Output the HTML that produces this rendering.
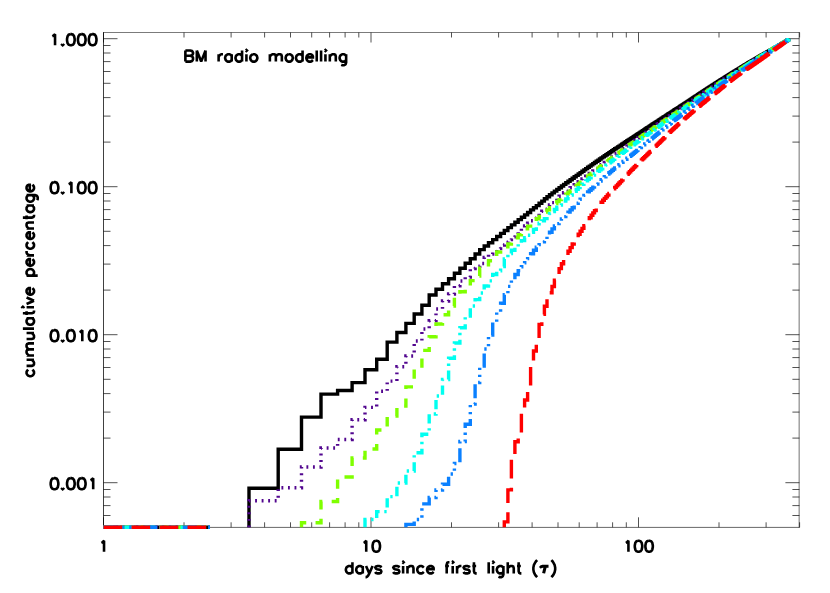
<!DOCTYPE html>
<html lang="en"><head><meta charset="utf-8"><title>BM radio modelling - cumulative percentage vs days since first light</title>
<style>
html,body{margin:0;padding:0;background:#ffffff;overflow:hidden}
body{width:830px;height:593px;font-family:"Liberation Sans",sans-serif}
svg{display:block}
.lbl text{font-family:"Liberation Sans",sans-serif;font-size:15px;font-weight:bold;fill:#000;fill-opacity:0;stroke:none}
</style>
</head><body>
<svg width="830" height="593" viewBox="0 0 830 593" role="img" aria-label="BM radio modelling: cumulative percentage versus days since first light">
<rect width="830" height="593" fill="#ffffff"/>
<!-- axes box and tick marks -->
<g><path d="M103.50 32.25V527.60" stroke="#000" stroke-width="0.75" fill="none"/>
<path d="M103.20 32.50H799.65" stroke="#000" stroke-width="0.52" fill="none"/>
<path d="M799.15 32.25V527.60" stroke="#000" stroke-width="0.56" fill="none"/>
<path d="M103.20 527.40H799.65" stroke="#000" stroke-width="0.6" fill="none"/>
<path d="M103.5 527.3 v-10.0M103.5 32.5 v10.0M184.0 527.3 v-5.0M184.0 32.5 v5.0M231.1 527.3 v-5.0M231.1 32.5 v5.0M264.6 527.3 v-5.0M264.6 32.5 v5.0M290.5 527.3 v-5.0M290.5 32.5 v5.0M311.7 527.3 v-5.0M311.7 32.5 v5.0M329.6 527.3 v-5.0M329.6 32.5 v5.0M345.1 527.3 v-5.0M345.1 32.5 v5.0M358.8 527.3 v-5.0M358.8 32.5 v5.0M371.0 527.3 v-10.0M371.0 32.5 v10.0M451.5 527.3 v-5.0M451.5 32.5 v5.0M498.6 527.3 v-5.0M498.6 32.5 v5.0M532.1 527.3 v-5.0M532.1 32.5 v5.0M558.0 527.3 v-5.0M558.0 32.5 v5.0M579.2 527.3 v-5.0M579.2 32.5 v5.0M597.1 527.3 v-5.0M597.1 32.5 v5.0M612.6 527.3 v-5.0M612.6 32.5 v5.0M626.3 527.3 v-5.0M626.3 32.5 v5.0M638.5 527.3 v-10.0M638.5 32.5 v10.0M719.0 527.3 v-5.0M719.0 32.5 v5.0M766.1 527.3 v-5.0M766.1 32.5 v5.0M799.6 527.3 v-5.0M799.6 32.5 v5.0M103.5 515.5 h7.0M799.4 515.5 h-7.0M103.5 505.6 h7.0M799.4 505.6 h-7.0M103.5 497.0 h7.0M799.4 497.0 h-7.0M103.5 489.5 h7.0M799.4 489.5 h-7.0M103.5 482.7 h14.0M799.4 482.7 h-14.0M103.5 438.1 h7.0M799.4 438.1 h-7.0M103.5 412.1 h7.0M799.4 412.1 h-7.0M103.5 393.6 h7.0M799.4 393.6 h-7.0M103.5 379.3 h7.0M799.4 379.3 h-7.0M103.5 367.5 h7.0M799.4 367.5 h-7.0M103.5 357.6 h7.0M799.4 357.6 h-7.0M103.5 349.0 h7.0M799.4 349.0 h-7.0M103.5 341.5 h7.0M799.4 341.5 h-7.0M103.5 334.7 h14.0M799.4 334.7 h-14.0M103.5 290.1 h7.0M799.4 290.1 h-7.0M103.5 264.1 h7.0M799.4 264.1 h-7.0M103.5 245.6 h7.0M799.4 245.6 h-7.0M103.5 231.3 h7.0M799.4 231.3 h-7.0M103.5 219.5 h7.0M799.4 219.5 h-7.0M103.5 209.6 h7.0M799.4 209.6 h-7.0M103.5 201.0 h7.0M799.4 201.0 h-7.0M103.5 193.5 h7.0M799.4 193.5 h-7.0M103.5 186.7 h14.0M799.4 186.7 h-14.0M103.5 142.1 h7.0M799.4 142.1 h-7.0M103.5 116.1 h7.0M799.4 116.1 h-7.0M103.5 97.6 h7.0M799.4 97.6 h-7.0M103.5 83.3 h7.0M799.4 83.3 h-7.0M103.5 71.5 h7.0M799.4 71.5 h-7.0M103.5 61.6 h7.0M799.4 61.6 h-7.0M103.5 53.0 h7.0M799.4 53.0 h-7.0M103.5 45.5 h7.0M799.4 45.5 h-7.0M103.5 38.7 h14.0M799.4 38.7 h-14.0" stroke="#000000" stroke-width="0.68" fill="none"/></g>
<!-- cumulative histogram curves: solid, dotted, dashed, dash-dot, dash-dot-dot-dot, long-dash -->
<g><path d="M103.5 527.3L209.9 527.3M249.0 527.3V488.2H278.2V449.2H301.5V417.1H321.0V394.1H337.6V390.5H352.1V382.6H365.0V369.8H376.7V359.2H387.2V342.1H396.9V332.5H405.9V323.4H414.2V314.0H421.9V305.2H429.2V295.0H436.0V289.3H442.5V283.7H448.6V278.8H454.4V273.3H459.9V268.2H465.2V263.2H470.3V258.7H475.1V254.0H479.7V249.6H484.2V246.0H488.5V242.8H492.7V239.6H496.7V236.5H500.6V233.4H504.3V230.5H507.9V227.6H511.4V224.9H514.9V222.2H518.2V219.6H521.4V217.2H524.6V214.9H527.6V212.5H530.6V209.9H533.5V207.8H536.3V205.6H539.1V203.3H541.8V201.1H544.4V198.8H547.0V196.7H549.5V194.7H552.0V192.9H554.4V191.1H556.8V189.4H559.1V187.7H561.4V186.0H563.6V184.4H565.8V182.8H568.0V181.3H570.1V179.7H572.2V178.3H574.2V176.8H576.2V175.4H578.2V174.0H580.1V172.6H582.0V171.2H583.9V169.9H585.7V168.6H587.6V167.3H589.3V166.1H591.1V164.9H592.8V163.6H594.5V162.5H596.2V161.3H597.9V160.2H599.5V159.0H601.1V157.9H602.7V156.9H604.3V155.8H605.9V154.8H607.4V153.7H608.9V152.7H610.4V151.7H611.8V150.7H613.3V149.8H614.7V148.8H616.2V147.9H617.6V147.0H618.9V146.1H620.3V145.2H621.7V144.3H623.0V143.4H624.3V142.5H625.6V141.7H626.9V140.8H628.2V140.0H629.4V139.2H630.7V138.4H631.9V137.6H633.2V136.8H634.4V136.0H635.6V135.2H636.7V134.4H637.9V133.7H639.1V132.9H640.2V132.1H641.4V131.4H642.5V130.7H643.6V129.9H644.7V129.2H645.8V128.5H646.9V127.8H648.0V127.1H649.0V126.4H650.1V125.7H651.1V125.0H652.2V124.3H653.2V123.7H654.2V123.0H655.2V122.4H656.2V121.7H657.2V121.1H658.2V120.4H659.2V119.8H660.2V119.2H661.1V118.5H662.1V117.9H663.0V117.3H664.0V116.7H664.9V116.1H665.8V115.5H666.7V114.9H667.6V114.3H668.5V113.7H669.4V113.2H670.3V112.6H671.2V112.0H672.1V111.5H672.9V110.9H673.8V110.3H674.6V109.8H675.5V109.2H676.3V108.7H677.2V108.1H678.0V107.6H678.8V107.1H679.6V106.5H680.5V106.0H681.3V105.5H682.1V105.0H682.9V104.4H683.7V103.9H684.4V103.4H685.2V102.9H686.0V102.4H686.8V101.9H687.5V101.4H688.3V100.9H689.0V100.4H689.8V99.9H690.5V99.4H691.3V98.9H692.0V98.4H692.7V98.0H693.5V97.5H694.2V97.0H694.9V96.5H695.6V96.1H696.3V95.6H697.0V95.1H697.7V94.7H698.4V94.2H699.1V93.8H699.8V93.3H700.5V92.9H701.2V92.4H701.8V92.0H702.5V91.5H703.2V91.1H703.8V90.7H704.5V90.2H705.2V89.8H705.8V89.4H706.5V89.0H707.1V88.5H707.7V88.1H708.4V87.7H709.0V87.3H709.7V86.9H710.3V86.5H710.9V86.1H711.5V85.7H712.1V85.3H712.8V84.9H713.4V84.5H714.0V84.1H714.6V83.7H715.2V83.3H715.8V82.9H716.4V82.6H717.0V82.2H717.6V81.8H718.2V81.4H718.7V81.1H719.3V80.7H719.9V80.3H720.5V80.0H721.0V79.6H721.6V79.3H722.2V78.9H722.7V78.6H723.3V78.2H723.9V77.9H724.4V77.5H725.0V77.2H725.5V76.8H726.1V76.5H726.6V76.1H727.2V75.8H727.7V75.5H728.2V75.1H728.8V74.8H729.3V74.5H729.8V74.1H730.4V73.8H730.9V73.5H731.4V73.1H731.9V72.8H732.5V72.5H733.0V72.2H733.5V71.9H734.0V71.5H734.5V71.2H735.0V70.9H735.5V70.6H736.0V70.3H736.5V70.0H737.0V69.7H737.5V69.4H738.0V69.1H738.5V68.8H739.0V68.5H739.5V68.2H740.0V67.9H740.4V67.6H740.9V67.3H741.4V67.0H741.9V66.7H742.4V66.4H742.8V66.1H743.3V65.8H743.8V65.5H744.2V65.2H744.7V65.0H745.2V64.7H745.6M745.6 64.7V64.4H746.1V64.1H746.6V63.9H747.0V63.6H747.5V63.3H747.9V63.0H748.4V62.8H748.8V62.5H749.3V62.2H749.7V62.0H750.2V61.7H750.6V61.4H751.1V61.2H751.5V60.9H751.9V60.6H752.4V60.4H752.8V60.1H753.2V59.9H753.7V59.6H754.1V59.4H754.5V59.1H755.0V58.9H755.4V58.6H755.8V58.4H756.2V58.1H756.7V57.9H757.1V57.6H757.5V57.4H757.9V57.1H758.3V56.9H758.7V56.7H759.1V56.4H759.6V56.2H760.0V56.0H760.4V55.7H760.8V55.5H761.2V55.3H761.6V55.0H762.0V54.8H762.4V54.6H762.8V54.4H763.2V54.2H763.6V53.9H764.0V53.7H764.4V53.5H764.8V53.3H765.2V53.1H765.5V52.9H765.9V52.7H766.3V52.4H766.7V52.2H767.1V52.0H767.5V51.8H767.9V51.6H768.2V51.4H768.6V51.2H769.0V51.0H769.4V50.8H769.8V50.6H770.1V50.4H770.5V50.2H770.9V50.0H771.2V49.8H771.6V49.6H772.0V49.4H772.3V49.2H772.7V49.0H773.1V48.7H773.4V48.5H773.8V48.3H774.2V48.1H774.5V47.9H774.9V47.7H775.2V47.5H775.6V47.3H776.0V47.1H776.3V46.9H776.7V46.7H777.0V46.5H777.4V46.3H777.7V46.1H778.1V45.9H778.4V45.7H778.8V45.5H779.1V45.3H779.5V45.1H779.8V44.9H780.2V44.7H780.5V44.4H780.8V44.2H781.2V44.0H781.5V43.8H781.9V43.6H782.2V43.4H782.5V43.2H782.9V43.0H783.2V42.8H783.5V42.6H783.9V42.4H784.2V42.2H784.5V42.0H784.9V41.8H785.2V41.6H785.5V41.4H785.8V41.2H786.2V41.0H786.5V40.8H786.8V40.6H787.1V40.5H787.5V40.3H787.8V40.1H788.1V39.9H788.4V39.7H788.8V39.6V38.7" stroke="#000000" stroke-width="3.40" fill="none" stroke-linejoin="miter" stroke-linecap="butt"/>
<path d="M103.5 527.3L209.9 527.3M249.0 527.3V500.7H278.2V487.8H301.5V467.0H321.0V448.0H337.6V439.5H352.1V419.8H365.0V407.4H376.7V391.3H387.2V381.1H396.9V366.7H405.9V356.0H414.2V341.0H421.9V329.0H429.2V320.8H436.0V309.0H442.5V301.0H448.6V294.0H454.4V285.8H459.9V281.0H465.2V277.0H470.3V268.5H475.1V266.2H479.7V263.5H484.2V257.5H488.5V254.0H492.7V251.5H496.7V248.5H500.6V245.0H504.3V242.2H507.9V239.6H511.4V236.8H514.9V234.0H518.2V231.3H521.4V228.6H524.6V225.9H527.6V223.2H530.6V220.7H533.5V218.2H536.3V215.9H539.1V213.6H541.8V211.3H544.4V209.2H547.0V207.1H549.5V204.9H552.0V202.6H554.4V200.3H556.8V198.2H559.1V196.3H561.4V194.5H563.6V192.8H565.8V191.1H568.0V189.5H570.1V187.8H572.2V186.3H574.2V184.7H576.2V183.2H578.2V181.7H580.1V180.3H582.0V178.9H583.9V177.5H585.7V176.1H587.6V174.8H589.3V173.5H591.1V172.2H592.8V170.9H594.5V169.7H596.2V168.4H597.9V167.2H599.5V166.0H601.1V164.8H602.7V163.6H604.3V162.5H605.9V161.3H607.4V160.2H608.9V159.1H610.4V158.0H611.8V156.9H613.3V155.9H614.7V154.8H616.2V153.8H617.6V152.7H618.9V151.7H620.3V150.7H621.7V149.7H623.0V148.7H624.3V147.8H625.6V146.8H626.9V145.9H628.2V145.0H629.4V144.0H630.7V143.1H631.9V142.2H633.2V141.4H634.4V140.5H635.6V139.6H636.7V138.8H637.9V137.9H639.1V137.1H640.2V136.3H641.4V135.5H642.5V134.7H643.6V133.9H644.7V133.1H645.8V132.4H646.9V131.6H648.0V130.8H649.0V130.1H650.1V129.4H651.1V128.6H652.2V127.9H653.2V127.2H654.2V126.5H655.2V125.8H656.2V125.1H657.2V124.4H658.2V123.7H659.2V123.0H660.2V122.4H661.1V121.7H662.1V121.1H663.0V120.4H664.0V119.8H664.9V119.1H665.8V118.5H666.7V117.9H667.6V117.2H668.5V116.6H669.4V116.0H670.3V115.4H671.2V114.8H672.1V114.2H672.9V113.6H673.8V113.0H674.6V112.4H675.5V111.9H676.3V111.3H677.2V110.7H678.0V110.2H678.8V109.6H679.6V109.0H680.5V108.5H681.3V107.9H682.1V107.4H682.9V106.8H683.7V106.3H684.4V105.8H685.2V105.2H686.0V104.7H686.8V104.2H687.5V103.6H688.3V103.1H689.0V102.6H689.8V102.1H690.5V101.6H691.3V101.1H692.0V100.6H692.7V100.1H693.5V99.6H694.2V99.1H694.9V98.6H695.6V98.1H696.3V97.6H697.0V97.1H697.7V96.7H698.4V96.2H699.1V95.7H699.8V95.3H700.5V94.8H701.2V94.3H701.8V93.9H702.5V93.4H703.2V93.0H703.8V92.5H704.5V92.1H705.2V91.6H705.8V91.2H706.5V90.8H707.1V90.3H707.7V89.9H708.4V89.5H709.0V89.0H709.7V88.6H710.3V88.2H710.9V87.8H711.5V87.4H712.1V87.0H712.8V86.5H713.4V86.1H714.0V85.7H714.6V85.3H715.2V84.9H715.8V84.5H716.4V84.2H717.0V83.8H717.6V83.4H718.2V83.0H718.7V82.6H719.3V82.2H719.9V81.8H720.5V81.5H721.0V81.1H721.6V80.7H722.2V80.4H722.7V80.0H723.3V79.6H723.9V79.3H724.4V78.9H725.0V78.5H725.5V78.2H726.1V77.8H726.6V77.5H727.2V77.1H727.7V76.8H728.2V76.4H728.8V76.1H729.3V75.7H729.8V75.4H730.4V75.0H730.9V74.7H731.4V74.4H731.9V74.0H732.5V73.7H733.0V73.4H733.5V73.0H734.0V72.7H734.5V72.4H735.0V72.1H735.5V71.7H736.0V71.4H736.5V71.1H737.0V70.8H737.5V70.5H738.0V70.1H738.5V69.8H739.0V69.5H739.5V69.2H740.0V68.9H740.4V68.6H740.9V68.3H741.4V68.0H741.9V67.7H742.4V67.4H742.8V67.1H743.3V66.8H743.8V66.5H744.2V66.2H744.7V65.9H745.2V65.6H745.6M745.6 65.6V65.3H746.1V65.0H746.6V64.7H747.0V64.5H747.5V64.2H747.9V63.9H748.4V63.6H748.8V63.3H749.3V63.0H749.7V62.8H750.2V62.5H750.6V62.2H751.1V61.9H751.5V61.7H751.9V61.4H752.4V61.1H752.8V60.9H753.2V60.6H753.7V60.3H754.1V60.1H754.5V59.8H755.0V59.5H755.4V59.3H755.8V59.0H756.2V58.7H756.7V58.5H757.1V58.2H757.5V58.0H757.9V57.7H758.3V57.5H758.7V57.2H759.1V57.0H759.6V56.7H760.0V56.5H760.4V56.2H760.8V56.0H761.2V55.7H761.6V55.5H762.0V55.2H762.4V55.0H762.8V54.7H763.2V54.5H763.6V54.3H764.0V54.0H764.4V53.8H764.8V53.5H765.2V53.3H765.5V53.1H765.9V52.8H766.3V52.6H766.7V52.4H767.1V52.1H767.5V51.9H767.9V51.7H768.2V51.5H768.6V51.2H769.0V51.0H769.4V50.8H769.8V50.6H770.1V50.3H770.5V50.1H770.9V49.9H771.2V49.7H771.6V49.5H772.0V49.2H772.3V49.0H772.7V48.8H773.1V48.6H773.4V48.4H773.8V48.2H774.2V47.9H774.5V47.7H774.9V47.5H775.2V47.3H775.6V47.1H776.0V46.9H776.3V46.7H776.7V46.5H777.0V46.3H777.4V46.1H777.7V45.8H778.1V45.6H778.4V45.4H778.8V45.2H779.1V45.0H779.5V44.8H779.8V44.6H780.2V44.4H780.5V44.2H780.8V44.0H781.2V43.8H781.5V43.6H781.9V43.4H782.2V43.2H782.5V43.1H782.9V42.9H783.2V42.7H783.5V42.5H783.9V42.3H784.2V42.1H784.5V41.9H784.9V41.7H785.2V41.5H785.5V41.3H785.8V41.1H786.2V41.0H786.5V40.8H786.8V40.6H787.1V40.4H787.5V40.2H787.8V40.0H788.1V39.8H788.4V39.7H788.8V39.6V38.7" stroke="#52068f" stroke-width="3.40" fill="none" stroke-linejoin="miter" stroke-linecap="butt" stroke-dasharray="1.87 4.67"/>
<path d="M103.5 527.3L209.9 527.3M301.5 527.3V522.7H321.0V501.5H337.6V477.0H352.1V458.0H365.0V449.0H376.7V430.0H387.2V416.0H396.9V406.0H405.9V386.9H414.2V368.0H421.9V350.4H429.2V336.8H436.0V324.0H442.5V314.8H448.6V306.0H454.4V297.0H459.9V291.7H465.2V286.0H470.3V280.6H475.1V276.0H479.7V268.3H484.2V264.7H488.5V260.7H492.7V256.0H496.7V252.0H500.6V249.2H504.3V246.7H507.9V244.0H511.4V240.9H514.9V237.7H518.2V234.7H521.4V231.7H524.6V228.9H527.6V226.1H530.6V223.6H533.5V221.1H536.3V218.8H539.1V216.4H541.8V214.2H544.4V212.0H547.0V209.9H549.5V207.7H552.0V205.6H554.4V203.5H556.8V201.5H559.1V199.6H561.4V197.7H563.6V195.9H565.8V194.1H568.0V192.3H570.1V190.6H572.2V188.8H574.2V187.1H576.2V185.5H578.2V183.9H580.1V182.3H582.0V180.8H583.9V179.3H585.7V177.8H587.6V176.3H589.3V174.9H591.1V173.5H592.8V172.1H594.5V170.7H596.2V169.4H597.9V168.1H599.5V166.8H601.1V165.6H602.7V164.4H604.3V163.2H605.9V162.0H607.4V160.9H608.9V159.7H610.4V158.6H611.8V157.5H613.3V156.5H614.7V155.4H616.2V154.4H617.6V153.4H618.9V152.4H620.3V151.4H621.7V150.4H623.0V149.4H624.3V148.5H625.6V147.6H626.9V146.6H628.2V145.7H629.4V144.8H630.7V143.9H631.9V143.1H633.2V142.2H634.4V141.3H635.6V140.5H636.7V139.7H637.9V138.8H639.1V138.0H640.2V137.2H641.4V136.4H642.5V135.6H643.6V134.8H644.7V134.1H645.8V133.3H646.9V132.6H648.0V131.8H649.0V131.1H650.1V130.3H651.1V129.6H652.2V128.9H653.2V128.2H654.2V127.5H655.2V126.8H656.2V126.1H657.2V125.5H658.2V124.8H659.2V124.1H660.2V123.5H661.1V122.8H662.1V122.2H663.0V121.5H664.0V120.9H664.9V120.3H665.8V119.6H666.7V119.0H667.6V118.4H668.5V117.8H669.4V117.2H670.3V116.6H671.2V116.0H672.1V115.4H672.9V114.8H673.8V114.2H674.6V113.6H675.5V113.1H676.3V112.5H677.2V111.9H678.0V111.4H678.8V110.8H679.6V110.2H680.5V109.7H681.3V109.1H682.1V108.6H682.9V108.0H683.7V107.5H684.4V106.9H685.2V106.4H686.0V105.9H686.8V105.3H687.5V104.8H688.3V104.3H689.0V103.8H689.8V103.2H690.5V102.7H691.3V102.2H692.0V101.7H692.7V101.2H693.5V100.7H694.2V100.2H694.9V99.7H695.6V99.2H696.3V98.7H697.0V98.2H697.7V97.8H698.4V97.3H699.1V96.8H699.8V96.3H700.5V95.8H701.2V95.4H701.8V94.9H702.5V94.4H703.2V94.0H703.8V93.5H704.5V93.1H705.2V92.6H705.8V92.2H706.5V91.7H707.1V91.3H707.7V90.9H708.4V90.4H709.0V90.0H709.7V89.6H710.3V89.1H710.9V88.7H711.5V88.3H712.1V87.9H712.8V87.4H713.4V87.0H714.0V86.6H714.6V86.2H715.2V85.8H715.8V85.4H716.4V85.0H717.0V84.6H717.6V84.2H718.2V83.8H718.7V83.4H719.3V83.0H719.9V82.6H720.5V82.3H721.0V81.9H721.6V81.5H722.2V81.1H722.7V80.7H723.3V80.4H723.9V80.0H724.4V79.6H725.0V79.3H725.5V78.9H726.1V78.5H726.6V78.2H727.2V77.8H727.7V77.5H728.2V77.1H728.8V76.7H729.3V76.4H729.8V76.0H730.4V75.7H730.9V75.3H731.4V75.0H731.9V74.7H732.5V74.3H733.0V74.0H733.5V73.6H734.0V73.3H734.5V73.0H735.0V72.6H735.5V72.3H736.0V72.0H736.5V71.6H737.0V71.3H737.5V71.0H738.0V70.7H738.5V70.3H739.0V70.0H739.5V69.7H740.0V69.4H740.4V69.1H740.9V68.8H741.4V68.5H741.9V68.1H742.4V67.8H742.8V67.5H743.3V67.2H743.8V66.9H744.2V66.6H744.7V66.3H745.2V66.0H745.6V65.7H746.1V65.4H746.6M746.6 65.4V65.1H747.0V64.8H747.5V64.5H747.9V64.2H748.4V64.0H748.8V63.7H749.3V63.4H749.7V63.1H750.2V62.8H750.6V62.5H751.1V62.2H751.5V62.0H751.9V61.7H752.4V61.4H752.8V61.1H753.2V60.9H753.7V60.6H754.1V60.3H754.5V60.0H755.0V59.8H755.4V59.5H755.8V59.2H756.2V59.0H756.7V58.7H757.1V58.5H757.5V58.2H757.9V57.9H758.3V57.7H758.7V57.4H759.1V57.2H759.6V56.9H760.0V56.7H760.4V56.4H760.8V56.1H761.2V55.9H761.6V55.6H762.0V55.4H762.4V55.2H762.8V54.9H763.2V54.7H763.6V54.4H764.0V54.2H764.4V53.9H764.8V53.7H765.2V53.5H765.5V53.2H765.9V53.0H766.3V52.7H766.7V52.5H767.1V52.3H767.5V52.0H767.9V51.8H768.2V51.6H768.6V51.4H769.0V51.1H769.4V50.9H769.8V50.7H770.1V50.4H770.5V50.2H770.9V50.0H771.2V49.8H771.6V49.5H772.0V49.3H772.3V49.1H772.7V48.9H773.1V48.7H773.4V48.4H773.8V48.2H774.2V48.0H774.5V47.8H774.9V47.6H775.2V47.4H775.6V47.2H776.0V46.9H776.3V46.7H776.7V46.5H777.0V46.3H777.4V46.1H777.7V45.9H778.1V45.7H778.4V45.5H778.8V45.3H779.1V45.1H779.5V44.9H779.8V44.7H780.2V44.5H780.5V44.3H780.8V44.1H781.2V43.9H781.5V43.7H781.9V43.5H782.2V43.3H782.5V43.1H782.9V42.9H783.2V42.7H783.5V42.5H783.9V42.3H784.2V42.1H784.5V41.9H784.9V41.7H785.2V41.5H785.5V41.3H785.8V41.2H786.2V41.0H786.5V40.8H786.8V40.6H787.1V40.4H787.5V40.2H787.8V40.0H788.1V39.8H788.4V39.7H788.8V39.6V38.7" stroke="#7fff00" stroke-width="3.40" fill="none" stroke-linejoin="miter" stroke-linecap="butt" stroke-dasharray="9.33 9.33"/>
<path d="M103.5 527.3L209.9 527.3M365.0 527.3V519.5H376.7V511.6H387.2V496.6H396.9V483.0H405.9V471.0H414.2V452.8H421.9V434.3H429.2V414.0H436.0V396.0H442.5V379.5H448.6V358.2H454.4V343.0H459.9V327.7H465.2V316.0H470.3V306.0H475.1V299.6H479.7V293.0H484.2V286.0H488.5V280.9H492.7V274.5H496.7V270.8H500.6V266.5H504.3V258.9H507.9V253.5H511.4V250.3H514.9V247.0H518.2V243.7H521.4V240.6H524.6V237.8H527.6V235.2H530.6V232.4H533.5V229.4H536.3V226.0H539.1V223.1H541.8V220.9H544.4V218.6H547.0V216.0H549.5V213.6H552.0V211.5H554.4V209.4H556.8V207.3H559.1V205.1H561.4V203.0H563.6V201.0H565.8V198.9H568.0V196.9H570.1V195.0H572.2V193.1H574.2V191.2H576.2V189.4H578.2V187.6H580.1V185.9H582.0V184.2H583.9V182.5H585.7V180.9H587.6V179.4H589.3V177.9H591.1V176.5H592.8V175.1H594.5V173.8H596.2V172.5H597.9V171.2H599.5V169.9H601.1V168.7H602.7V167.5H604.3V166.3H605.9V165.1H607.4V163.9H608.9V162.8H610.4V161.7H611.8V160.5H613.3V159.4H614.7V158.4H616.2V157.3H617.6V156.2H618.9V155.2H620.3V154.2H621.7V153.2H623.0V152.2H624.3V151.2H625.6V150.2H626.9V149.3H628.2V148.3H629.4V147.4H630.7V146.5H631.9V145.6H633.2V144.7H634.4V143.8H635.6V142.9H636.7V142.0H637.9V141.2H639.1V140.3H640.2V139.5H641.4V138.7H642.5V137.8H643.6V137.0H644.7V136.2H645.8V135.4H646.9V134.7H648.0V133.9H649.0V133.1H650.1V132.4H651.1V131.6H652.2V130.9H653.2V130.1H654.2V129.4H655.2V128.7H656.2V128.0H657.2V127.3H658.2V126.6H659.2V125.9H660.2V125.2H661.1V124.5H662.1V123.9H663.0V123.2H664.0V122.5H664.9V121.9H665.8V121.2H666.7V120.6H667.6V119.9H668.5V119.3H669.4V118.7H670.3V118.1H671.2V117.4H672.1V116.8H672.9V116.2H673.8V115.6H674.6V115.0H675.5V114.4H676.3V113.8H677.2V113.3H678.0V112.7H678.8V112.1H679.6V111.5H680.5V111.0H681.3V110.4H682.1V109.8H682.9V109.3H683.7V108.7H684.4V108.2H685.2V107.6H686.0V107.1H686.8V106.6H687.5V106.0H688.3V105.5H689.0V105.0H689.8V104.5H690.5V104.0H691.3V103.4H692.0V102.9H692.7V102.4H693.5V101.9H694.2V101.4H694.9V100.9H695.6V100.4H696.3V100.0H697.0V99.5H697.7V99.0H698.4V98.5H699.1V98.0H699.8V97.6H700.5V97.1H701.2V96.6H701.8V96.2H702.5V95.7H703.2V95.2H703.8V94.8H704.5V94.3H705.2V93.9H705.8V93.4H706.5V93.0H707.1V92.6H707.7V92.1H708.4V91.7H709.0V91.2H709.7V90.8H710.3V90.4H710.9V90.0H711.5V89.5H712.1V89.1H712.8V88.7H713.4V88.3H714.0V87.9H714.6V87.5H715.2V87.0H715.8V86.6H716.4V86.2H717.0V85.8H717.6V85.4H718.2V85.0H718.7V84.6H719.3V84.2H719.9V83.8H720.5V83.4H721.0V83.1H721.6V82.7H722.2V82.3H722.7V81.9H723.3V81.5H723.9V81.1H724.4V80.8H725.0V80.4H725.5V80.0H726.1V79.6H726.6V79.3H727.2V78.9H727.7V78.5H728.2V78.1H728.8V77.8H729.3V77.4H729.8V77.1H730.4V76.7H730.9V76.3H731.4V76.0H731.9V75.6H732.5V75.3H733.0V74.9H733.5V74.6H734.0V74.2H734.5V73.9H735.0V73.5H735.5V73.2H736.0V72.8H736.5V72.5H737.0V72.2H737.5V71.8H738.0V71.5H738.5V71.1H739.0V70.8H739.5V70.5H740.0V70.1H740.4V69.8H740.9V69.5H741.4V69.2H741.9V68.8H742.4V68.5H742.8V68.2H743.3V67.9H743.8V67.6H744.2V67.3H744.7V66.9H745.2V66.6H745.6V66.3H746.1V66.0H746.6V65.7H747.0V65.4H747.5V65.1H747.9V64.8H748.4M748.4 64.8V64.5H748.8V64.2H749.3V63.9H749.7V63.6H750.2V63.3H750.6V63.0H751.1V62.7H751.5V62.4H751.9V62.1H752.4V61.9H752.8V61.6H753.2V61.3H753.7V61.0H754.1V60.7H754.5V60.4H755.0V60.2H755.4V59.9H755.8V59.6H756.2V59.3H756.7V59.1H757.1V58.8H757.5V58.5H757.9V58.3H758.3V58.0H758.7V57.7H759.1V57.5H759.6V57.2H760.0V56.9H760.4V56.7H760.8V56.4H761.2V56.2H761.6V55.9H762.0V55.7H762.4V55.4H762.8V55.2H763.2V54.9H763.6V54.7H764.0V54.4H764.4V54.2H764.8V53.9H765.2V53.7H765.5V53.4H765.9V53.2H766.3V53.0H766.7V52.7H767.1V52.5H767.5V52.2H767.9V52.0H768.2V51.8H768.6V51.5H769.0V51.3H769.4V51.1H769.8V50.8H770.1V50.6H770.5V50.4H770.9V50.1H771.2V49.9H771.6V49.7H772.0V49.5H772.3V49.2H772.7V49.0H773.1V48.8H773.4V48.6H773.8V48.3H774.2V48.1H774.5V47.9H774.9V47.7H775.2V47.5H775.6V47.3H776.0V47.0H776.3V46.8H776.7V46.6H777.0V46.4H777.4V46.2H777.7V46.0H778.1V45.8H778.4V45.6H778.8V45.4H779.1V45.1H779.5V44.9H779.8V44.7H780.2V44.5H780.5V44.3H780.8V44.1H781.2V43.9H781.5V43.7H781.9V43.5H782.2V43.3H782.5V43.1H782.9V42.9H783.2V42.7H783.5V42.5H783.9V42.3H784.2V42.1H784.5V41.9H784.9V41.7H785.2V41.6H785.5V41.4H785.8V41.2H786.2V41.0H786.5V40.8H786.8V40.6H787.1V40.4H787.5V40.2H787.8V40.0H788.1V39.8H788.4V39.7H788.8V39.6V38.7" stroke="#00fff0" stroke-width="3.40" fill="none" stroke-linejoin="miter" stroke-linecap="butt" stroke-dasharray="9.33 4.67 2.33 4.67"/>
<path d="M103.5 527.3L209.9 527.3M405.9 527.3V524.4H414.2V519.5H421.9V503.9H429.2V497.5H436.0V490.0H442.5V484.3H448.6V474.0H454.4V463.5H459.9V441.5H465.2V424.3H470.3V404.0H475.1V382.5H479.7V366.0H484.2V349.0H488.5V335.0H492.7V322.0H496.7V311.8H500.6V303.2H504.3V294.8H507.9V286.4H511.4V279.3H514.9V274.5H518.2V270.6H521.4V266.8H524.6V262.8H527.6V258.6H530.6V253.8H533.5V250.2H536.3V247.2H539.1V244.6H541.8V241.9H544.4V239.1H547.0V236.0H549.5V232.2H552.0V228.9H554.4V226.0H556.8V223.6H559.1V221.2H561.4V218.9H563.6V216.6H565.8V214.3H568.0V212.1H570.1V209.9H572.2V207.7H574.2V205.5H576.2V203.3H578.2V201.2H580.1V199.2H582.0V197.3H583.9V195.4H585.7V193.7H587.6V191.9H589.3V190.3H591.1V188.7H592.8V187.1H594.5V185.5H596.2V184.0H597.9V182.5H599.5V181.0H601.1V179.6H602.7V178.2H604.3V176.8H605.9V175.5H607.4V174.1H608.9V172.8H610.4V171.6H611.8V170.3H613.3V169.1H614.7V168.0H616.2V166.8H617.6V165.7H618.9V164.6H620.3V163.5H621.7V162.4H623.0V161.4H624.3V160.3H625.6V159.3H626.9V158.3H628.2V157.3H629.4V156.3H630.7V155.3H631.9V154.3H633.2V153.3H634.4V152.3H635.6V151.4H636.7V150.4H637.9V149.5H639.1V148.5H640.2V147.6H641.4V146.7H642.5V145.7H643.6V144.8H644.7V143.9H645.8V143.0H646.9V142.2H648.0V141.3H649.0V140.4H650.1V139.6H651.1V138.7H652.2V137.9H653.2V137.1H654.2V136.2H655.2V135.4H656.2V134.6H657.2V133.8H658.2V133.0H659.2V132.3H660.2V131.5H661.1V130.7H662.1V129.9H663.0V129.2H664.0V128.4H664.9V127.7H665.8V127.0H666.7V126.2H667.6V125.5H668.5V124.8H669.4V124.1H670.3V123.4H671.2V122.7H672.1V122.0H672.9V121.3H673.8V120.6H674.6V119.9H675.5V119.3H676.3V118.6H677.2V118.0H678.0V117.3H678.8V116.7H679.6V116.0H680.5V115.4H681.3V114.8H682.1V114.1H682.9V113.5H683.7V112.9H684.4V112.3H685.2V111.7H686.0V111.1H686.8V110.5H687.5V109.9H688.3V109.3H689.0V108.7H689.8V108.1H690.5V107.5H691.3V106.9H692.0V106.4H692.7V105.8H693.5V105.2H694.2V104.7H694.9V104.1H695.6V103.6H696.3V103.0H697.0V102.5H697.7V101.9H698.4V101.4H699.1V100.8H699.8V100.3H700.5V99.8H701.2V99.3H701.8V98.8H702.5V98.2H703.2V97.7H703.8V97.2H704.5V96.7H705.2V96.2H705.8V95.7H706.5V95.2H707.1V94.7H707.7V94.3H708.4V93.8H709.0V93.3H709.7V92.8H710.3V92.4H710.9V91.9H711.5V91.4H712.1V91.0H712.8V90.5H713.4V90.1H714.0V89.6H714.6V89.2H715.2V88.7H715.8V88.3H716.4V87.9H717.0V87.4H717.6V87.0H718.2V86.6H718.7V86.2H719.3V85.7H719.9V85.3H720.5V84.9H721.0V84.5H721.6V84.1H722.2V83.7H722.7V83.3H723.3V82.9H723.9V82.5H724.4V82.1H725.0V81.8H725.5V81.4H726.1V81.0H726.6V80.6H727.2V80.2H727.7V79.9H728.2V79.5H728.8V79.1H729.3V78.8H729.8V78.4H730.4V78.1H730.9V77.7H731.4V77.3H731.9V77.0H732.5V76.6H733.0V76.3H733.5V75.9H734.0V75.6H734.5V75.3H735.0V74.9H735.5V74.6H736.0V74.2H736.5V73.9H737.0V73.6H737.5V73.3H738.0V72.9H738.5V72.6H739.0V72.3H739.5V71.9H740.0V71.6H740.4V71.3H740.9V71.0H741.4V70.7H741.9V70.4H742.4V70.0H742.8V69.7H743.3V69.4H743.8V69.1H744.2V68.8H744.7V68.5H745.2V68.2H745.6V67.9H746.1V67.6H746.6V67.3H747.0V67.0H747.5V66.7H747.9V66.4H748.4V66.1H748.8V65.8H749.3V65.5H749.7V65.2H750.2M750.2 65.2V64.9H750.6V64.6H751.1V64.3H751.5V64.0H751.9V63.7H752.4V63.5H752.8V63.2H753.2V62.9H753.7V62.6H754.1V62.3H754.5V62.0H755.0V61.8H755.4V61.5H755.8V61.2H756.2V60.9H756.7V60.6H757.1V60.4H757.5V60.1H757.9V59.8H758.3V59.5H758.7V59.3H759.1V59.0H759.6V58.7H760.0V58.4H760.4V58.2H760.8V57.9H761.2V57.6H761.6V57.4H762.0V57.1H762.4V56.8H762.8V56.6H763.2V56.3H763.6V56.0H764.0V55.8H764.4V55.5H764.8V55.3H765.2V55.0H765.5V54.7H765.9V54.5H766.3V54.2H766.7V54.0H767.1V53.7H767.5V53.5H767.9V53.2H768.2V53.0H768.6V52.7H769.0V52.5H769.4V52.2H769.8V52.0H770.1V51.7H770.5V51.5H770.9V51.2H771.2V51.0H771.6V50.7H772.0V50.5H772.3V50.2H772.7V50.0H773.1V49.8H773.4V49.5H773.8V49.3H774.2V49.0H774.5V48.8H774.9V48.6H775.2V48.3H775.6V48.1H776.0V47.9H776.3V47.6H776.7V47.4H777.0V47.2H777.4V46.9H777.7V46.7H778.1V46.5H778.4V46.2H778.8V46.0H779.1V45.8H779.5V45.6H779.8V45.3H780.2V45.1H780.5V44.9H780.8V44.6H781.2V44.4H781.5V44.2H781.9V44.0H782.2V43.8H782.5V43.5H782.9V43.3H783.2V43.1H783.5V42.9H783.9V42.7H784.2V42.4H784.5V42.2H784.9V42.0H785.2V41.8H785.5V41.6H785.8V41.4H786.2V41.1H786.5V40.9H786.8V40.7H787.1V40.5H787.5V40.3H787.8V40.1H788.1V39.9H788.4V39.7H788.8V39.6V38.7" stroke="#0a80ff" stroke-width="3.40" fill="none" stroke-linejoin="miter" stroke-linecap="butt" stroke-dasharray="14.00 4.67 2.33 4.67 2.33 4.67 2.33 4.67"/>
<path d="M103.5 527.3L209.9 527.3M504.3 527.3V521.9H507.9V489.9H511.4V456.0H514.9V441.8H518.2V434.0H521.4V410.0H524.6V400.0H527.6V388.0H530.6V364.0H533.5V351.0H536.3V341.0H539.1V324.4H541.8V314.4H544.4V306.2H547.0V299.0H549.5V292.7H552.0V286.5H554.4V280.2H556.8V274.2H559.1V268.6H561.4V263.7H563.6V259.3H565.8V255.2H568.0V251.3H570.1V247.6H572.2V244.0H574.2V240.6H576.2V237.4H578.2V234.3H580.1V231.3H582.0V228.4H583.9V225.6H585.7V222.9H587.6V220.3H589.3V217.7H591.1V215.3H592.8V212.9H594.5V210.6H596.2V208.4H597.9V206.2H599.5V204.2H601.1V202.2H602.7V200.2H604.3V198.4H605.9V196.7H607.4V195.0H608.9V193.4H610.4V191.8H611.8V190.3H613.3V188.8H614.7V187.4H616.2V185.9H617.6V184.5H618.9V183.0H620.3V181.6H621.7V180.1H623.0V178.7H624.3V177.2H625.6V175.8H626.9V174.4H628.2V173.1H629.4V171.7H630.7V170.4H631.9V169.2H633.2V167.9H634.4V166.7H635.6V165.5H636.7V164.4H637.9V163.2H639.1V162.1H640.2V161.0H641.4V159.9H642.5V158.8H643.6V157.7H644.7V156.6H645.8V155.6H646.9V154.5H648.0V153.5H649.0V152.4H650.1V151.4H651.1V150.4H652.2V149.3H653.2V148.3H654.2V147.3H655.2V146.4H656.2V145.4H657.2V144.4H658.2V143.4H659.2V142.5H660.2V141.5H661.1V140.6H662.1V139.6H663.0V138.7H664.0V137.7H664.9V136.8H665.8V135.8H666.7V134.9H667.6V134.0H668.5V133.2H669.4V132.3H670.3V131.5H671.2V130.6H672.1V129.8H672.9V129.0H673.8V128.2H674.6V127.4H675.5V126.7H676.3V125.9H677.2V125.1H678.0V124.4H678.8V123.6H679.6V122.9H680.5V122.2H681.3V121.5H682.1V120.8H682.9V120.1H683.7V119.4H684.4V118.7H685.2V118.0H686.0V117.3H686.8V116.7H687.5V116.0H688.3V115.4H689.0V114.7H689.8V114.1H690.5V113.4H691.3V112.8H692.0V112.2H692.7V111.5H693.5V110.9H694.2V110.3H694.9V109.7H695.6V109.1H696.3V108.5H697.0V107.9H697.7V107.3H698.4V106.7H699.1V106.2H699.8V105.6H700.5V105.0H701.2V104.4H701.8V103.9H702.5V103.3H703.2V102.8H703.8V102.2H704.5V101.7H705.2V101.1H705.8V100.6H706.5V100.1H707.1V99.6H707.7V99.0H708.4V98.5H709.0V98.0H709.7V97.5H710.3V97.0H710.9V96.5H711.5V96.0H712.1V95.5H712.8V95.0H713.4V94.5H714.0V94.0H714.6V93.6H715.2V93.1H715.8V92.6H716.4V92.1H717.0V91.7H717.6V91.2H718.2V90.7H718.7V90.2H719.3V89.8H719.9V89.3H720.5V88.9H721.0V88.4H721.6V87.9H722.2V87.5H722.7V87.0H723.3V86.5H723.9V86.1H724.4V85.6H725.0V85.2H725.5V84.7H726.1V84.3H726.6V83.8H727.2V83.4H727.7V82.9H728.2V82.5H728.8V82.1H729.3V81.6H729.8V81.2H730.4V80.8H730.9V80.4H731.4V80.0H731.9V79.6H732.5V79.2H733.0V78.8H733.5V78.4H734.0V78.0H734.5V77.6H735.0V77.2H735.5V76.9H736.0V76.5H736.5V76.1H737.0V75.8H737.5V75.4H738.0V75.1H738.5V74.7H739.0V74.4H739.5V74.0H740.0V73.7H740.4V73.3H740.9V73.0H741.4V72.7H741.9V72.3H742.4V72.0H742.8V71.7H743.3V71.3H743.8V71.0H744.2V70.7H744.7V70.4H745.2V70.1H745.6V69.8H746.1V69.4H746.6V69.1H747.0V68.8H747.5V68.5H747.9V68.2H748.4V67.9H748.8V67.6H749.3V67.3H749.7V67.0H750.2V66.7H750.6V66.4H751.1V66.1H751.5V65.8H751.9V65.5H752.4V65.2H752.8V64.9H753.2V64.6H753.7V64.3H754.1V64.0H754.5V63.7H755.0V63.4H755.4V63.1H755.8V62.8H756.2V62.5H756.7V62.3H757.1V62.0H757.5V61.7H757.9M757.9 61.7V61.4H758.3V61.1H758.7V60.8H759.1V60.5H759.6V60.2H760.0V59.9H760.4V59.6H760.8V59.4H761.2V59.1H761.6V58.8H762.0V58.5H762.4V58.2H762.8V57.9H763.2V57.6H763.6V57.4H764.0V57.1H764.4V56.8H764.8V56.5H765.2V56.2H765.5V55.9H765.9V55.7H766.3V55.4H766.7V55.1H767.1V54.8H767.5V54.5H767.9V54.3H768.2V54.0H768.6V53.7H769.0V53.4H769.4V53.2H769.8V52.9H770.1V52.6H770.5V52.4H770.9V52.1H771.2V51.8H771.6V51.6H772.0V51.3H772.3V51.0H772.7V50.8H773.1V50.5H773.4V50.2H773.8V50.0H774.2V49.7H774.5V49.5H774.9V49.2H775.2V49.0H775.6V48.7H776.0V48.4H776.3V48.2H776.7V47.9H777.0V47.7H777.4V47.4H777.7V47.2H778.1V46.9H778.4V46.7H778.8V46.5H779.1V46.2H779.5V46.0H779.8V45.7H780.2V45.5H780.5V45.2H780.8V45.0H781.2V44.8H781.5V44.5H781.9V44.3H782.2V44.0H782.5V43.8H782.9V43.6H783.2V43.3H783.5V43.1H783.9V42.9H784.2V42.6H784.5V42.4H784.9V42.2H785.2V41.9H785.5V41.7H785.8V41.5H786.2V41.2H786.5V41.0H786.8V40.8H787.1V40.6H787.5V40.3H787.8V40.1H788.1V39.9H788.4V39.7H788.8V39.6V38.7" stroke="#ff0000" stroke-width="3.40" fill="none" stroke-linejoin="miter" stroke-linecap="butt" stroke-dasharray="18.67 9.33"/></g>
<!-- vector (Hershey simplex) lettering for title, axis titles and tick labels -->
<path d="M185.38 50.47L185.38 61.60M185.38 50.47L190.28 50.47L191.92 51.00L192.46 51.53L193.01 52.59L193.01 53.65L192.46 54.71L191.92 55.24L190.28 55.77M185.38 55.77L190.28 55.77L191.92 56.30L192.46 56.83L193.01 57.89L193.01 59.48L192.46 60.54L191.92 61.07L190.28 61.60L185.38 61.60M196.82 50.47L196.82 61.60M196.82 50.47L201.19 61.60M205.54 50.47L201.19 61.60M205.54 50.47L205.54 61.60M218.62 54.18L218.62 61.60M218.62 57.36L219.17 55.77L220.26 54.71L221.35 54.18L222.98 54.18M231.70 54.18L231.70 61.60M231.70 55.77L230.62 54.71L229.52 54.18L227.89 54.18L226.80 54.71L225.71 55.77L225.16 57.36L225.16 58.42L225.71 60.01L226.80 61.07L227.89 61.60L229.52 61.60L230.62 61.07L231.70 60.01M242.06 50.47L242.06 61.60M242.06 55.77L240.97 54.71L239.88 54.18L238.25 54.18L237.16 54.71L236.06 55.77L235.52 57.36L235.52 58.42L236.06 60.01L237.16 61.07L238.25 61.60L239.88 61.60L240.97 61.07L242.06 60.01M245.88 50.47L246.42 51.00L246.97 50.47L246.42 49.94L245.88 50.47M246.42 54.18L246.42 61.60M252.96 54.18L251.87 54.71L250.78 55.77L250.24 57.36L250.24 58.42L250.78 60.01L251.87 61.07L252.96 61.60L254.59 61.60L255.69 61.07L256.77 60.01L257.32 58.42L257.32 57.36L256.77 55.77L255.69 54.71L254.59 54.18L252.96 54.18M269.86 54.18L269.86 61.60M269.86 56.30L271.49 54.71L272.58 54.18L274.21 54.18L275.31 54.71L275.85 56.30L275.85 61.60M275.85 56.30L277.49 54.71L278.57 54.18L280.21 54.18L281.30 54.71L281.85 56.30L281.85 61.60M288.38 54.18L287.30 54.71L286.20 55.77L285.66 57.36L285.66 58.42L286.20 60.01L287.30 61.07L288.38 61.60L290.02 61.60L291.11 61.07L292.20 60.01L292.75 58.42L292.75 57.36L292.20 55.77L291.11 54.71L290.02 54.18L288.38 54.18M302.56 50.47L302.56 61.60M302.56 55.77L301.47 54.71L300.38 54.18L298.74 54.18L297.65 54.71L296.56 55.77L296.01 57.36L296.01 58.42L296.56 60.01L297.65 61.07L298.74 61.60L300.38 61.60L301.47 61.07L302.56 60.01M306.37 57.36L312.91 57.36L312.91 56.30L312.37 55.24L311.82 54.71L310.73 54.18L309.10 54.18L308.00 54.71L306.91 55.77L306.37 57.36L306.37 58.42L306.91 60.01L308.00 61.07L309.10 61.60L310.73 61.60L311.82 61.07L312.91 60.01M316.73 50.47L316.73 61.60M321.09 50.47L321.09 61.60M324.90 50.47L325.44 51.00L325.99 50.47L325.44 49.94L324.90 50.47M325.44 54.18L325.44 61.60M329.81 54.18L329.81 61.60M329.81 56.30L331.44 54.71L332.53 54.18L334.16 54.18L335.25 54.71L335.80 56.30L335.80 61.60M346.15 54.18L346.15 62.66L345.61 64.25L345.06 64.78L343.98 65.31L342.34 65.31L341.25 64.78M346.15 55.77L345.06 54.71L343.98 54.18L342.34 54.18L341.25 54.71L340.16 55.77L339.62 57.36L339.62 58.42L340.16 60.01L341.25 61.07L342.34 61.60L343.98 61.60L345.06 61.07L346.15 60.01M352.43 562.27L352.43 573.40M352.43 567.57L351.34 566.51L350.25 565.98L348.61 565.98L347.52 566.51L346.43 567.57L345.89 569.16L345.89 570.22L346.43 571.81L347.52 572.87L348.61 573.40L350.25 573.40L351.34 572.87L352.43 571.81M362.78 565.98L362.78 573.40M362.78 567.57L361.69 566.51L360.60 565.98L358.97 565.98L357.88 566.51L356.79 567.57L356.24 569.16L356.24 570.22L356.79 571.81L357.88 572.87L358.97 573.40L360.60 573.40L361.69 572.87L362.78 571.81M366.05 565.98L369.32 573.40M372.59 565.98L369.32 573.40L368.23 575.52L367.14 576.58L366.05 577.11L365.51 577.11M381.31 567.57L380.77 566.51L379.13 565.98L377.50 565.98L375.86 566.51L375.32 567.57L375.86 568.63L376.95 569.16L379.68 569.69L380.77 570.22L381.31 571.28L381.31 571.81L380.77 572.87L379.13 573.40L377.50 573.40L375.86 572.87L375.32 571.81M399.30 567.57L398.75 566.51L397.12 565.98L395.48 565.98L393.85 566.51L393.30 567.57L393.85 568.63L394.94 569.16L397.66 569.69L398.75 570.22L399.30 571.28L399.30 571.81L398.75 572.87L397.12 573.40L395.48 573.40L393.85 572.87L393.30 571.81M402.57 562.27L403.11 562.80L403.66 562.27L403.11 561.74L402.57 562.27M403.11 565.98L403.11 573.40M407.47 565.98L407.47 573.40M407.47 568.10L409.11 566.51L410.20 565.98L411.83 565.98L412.92 566.51L413.47 568.10L413.47 573.40M423.82 567.57L422.73 566.51L421.64 565.98L420.01 565.98L418.92 566.51L417.83 567.57L417.28 569.16L417.28 570.22L417.83 571.81L418.92 572.87L420.01 573.40L421.64 573.40L422.73 572.87L423.82 571.81M427.09 569.16L433.63 569.16L433.63 568.10L433.09 567.04L432.54 566.51L431.45 565.98L429.82 565.98L428.73 566.51L427.64 567.57L427.09 569.16L427.09 570.22L427.64 571.81L428.73 572.87L429.82 573.40L431.45 573.40L432.54 572.87L433.63 571.81M449.44 562.27L448.35 562.27L447.26 562.80L446.71 564.39L446.71 573.40M445.08 565.98L448.89 565.98M452.16 562.27L452.71 562.80L453.25 562.27L452.71 561.74L452.16 562.27M452.71 565.98L452.71 573.40M457.07 565.98L457.07 573.40M457.07 569.16L457.61 567.57L458.70 566.51L459.79 565.98L461.43 565.98M469.60 567.57L469.06 566.51L467.42 565.98L465.79 565.98L464.15 566.51L463.61 567.57L464.15 568.63L465.24 569.16L467.97 569.69L469.06 570.22L469.60 571.28L469.60 571.81L469.06 572.87L467.42 573.40L465.79 573.40L464.15 572.87L463.61 571.81M473.96 562.27L473.96 571.28L474.51 572.87L475.60 573.40L476.69 573.40M472.33 565.98L476.14 565.98M488.68 562.27L488.68 573.40M492.49 562.27L493.04 562.80L493.58 562.27L493.04 561.74L492.49 562.27M493.04 565.98L493.04 573.40M503.39 565.98L503.39 574.46L502.85 576.05L502.30 576.58L501.21 577.11L499.58 577.11L498.49 576.58M503.39 567.57L502.30 566.51L501.21 565.98L499.58 565.98L498.49 566.51L497.40 567.57L496.85 569.16L496.85 570.22L497.40 571.81L498.49 572.87L499.58 573.40L501.21 573.40L502.30 572.87L503.39 571.81M507.75 562.27L507.75 573.40M507.75 568.10L509.39 566.51L510.48 565.98L512.11 565.98L513.20 566.51L513.75 568.10L513.75 573.40M518.65 562.27L518.65 571.28L519.20 572.87L520.29 573.40L521.38 573.40M517.02 565.98L520.83 565.98M537.18 560.15L536.09 561.21L535.00 562.80L533.91 564.92L533.37 567.57L533.37 569.69L533.91 572.34L535.00 574.46L536.09 576.05L537.18 577.11M539.91 567.83L541.00 566.67L542.63 565.98L548.52 565.98M540.23 567.46L541.32 566.83L542.63 566.40L548.52 566.40M545.14 565.98L543.40 573.24M545.63 565.98L543.89 573.24M551.35 560.15L552.44 561.21L553.53 562.80L554.62 564.92L555.17 567.57L555.17 569.69L554.62 572.34L553.53 574.46L552.44 576.05L551.35 577.11M28.17 369.66L27.11 370.75L26.58 371.85L26.58 373.49L27.11 374.58L28.17 375.68L29.76 376.22L30.82 376.22L32.41 375.68L33.47 374.58L34.00 373.49L34.00 371.85L33.47 370.75L32.41 369.66M26.58 365.83L31.88 365.83L33.47 365.28L34.00 364.19L34.00 362.55L33.47 361.46L31.88 359.81M26.58 359.81L34.00 359.81M26.58 355.44L34.00 355.44M28.70 355.44L27.11 353.80L26.58 352.70L26.58 351.06L27.11 349.97L28.70 349.42L34.00 349.42M28.70 349.42L27.11 347.78L26.58 346.69L26.58 345.05L27.11 343.95L28.70 343.40L34.00 343.40M26.58 339.03L31.88 339.03L33.47 338.48L34.00 337.39L34.00 335.75L33.47 334.65L31.88 333.01M26.58 333.01L34.00 333.01M22.87 328.64L34.00 328.64M26.58 318.24L34.00 318.24M28.17 318.24L27.11 319.34L26.58 320.43L26.58 322.07L27.11 323.17L28.17 324.26L29.76 324.81L30.82 324.81L32.41 324.26L33.47 323.17L34.00 322.07L34.00 320.43L33.47 319.34L32.41 318.24M22.87 313.32L31.88 313.32L33.47 312.77L34.00 311.68L34.00 310.58M26.58 314.96L26.58 311.13M22.87 307.85L23.40 307.30L22.87 306.76L22.34 307.30L22.87 307.85M26.58 307.30L34.00 307.30M26.58 304.02L34.00 300.74M26.58 297.46L34.00 300.74M29.76 294.72L29.76 288.16L28.70 288.16L27.64 288.70L27.11 289.25L26.58 290.35L26.58 291.99L27.11 293.08L28.17 294.17L29.76 294.72L30.82 294.72L32.41 294.17L33.47 293.08L34.00 291.99L34.00 290.35L33.47 289.25L32.41 288.16M26.58 275.58L37.71 275.58M28.17 275.58L27.11 274.48L26.58 273.39L26.58 271.75L27.11 270.65L28.17 269.56L29.76 269.01L30.82 269.01L32.41 269.56L33.47 270.65L34.00 271.75L34.00 273.39L33.47 274.48L32.41 275.58M29.76 265.73L29.76 259.17L28.70 259.17L27.64 259.71L27.11 260.26L26.58 261.35L26.58 263.00L27.11 264.09L28.17 265.18L29.76 265.73L30.82 265.73L32.41 265.18L33.47 264.09L34.00 263.00L34.00 261.35L33.47 260.26L32.41 259.17M26.58 255.34L34.00 255.34M29.76 255.34L28.17 254.79L27.11 253.70L26.58 252.60L26.58 250.96M28.17 242.21L27.11 243.30L26.58 244.40L26.58 246.04L27.11 247.13L28.17 248.23L29.76 248.77L30.82 248.77L32.41 248.23L33.47 247.13L34.00 246.04L34.00 244.40L33.47 243.30L32.41 242.21M29.76 238.93L29.76 232.36L28.70 232.36L27.64 232.91L27.11 233.46L26.58 234.55L26.58 236.19L27.11 237.29L28.17 238.38L29.76 238.93L30.82 238.93L32.41 238.38L33.47 237.29L34.00 236.19L34.00 234.55L33.47 233.46L32.41 232.36M26.58 228.53L34.00 228.53M28.70 228.53L27.11 226.89L26.58 225.80L26.58 224.16L27.11 223.06L28.70 222.52L34.00 222.52M22.87 217.59L31.88 217.59L33.47 217.05L34.00 215.95L34.00 214.86M26.58 219.24L26.58 215.41M26.58 205.56L34.00 205.56M28.17 205.56L27.11 206.65L26.58 207.75L26.58 209.39L27.11 210.48L28.17 211.58L29.76 212.12L30.82 212.12L32.41 211.58L33.47 210.48L34.00 209.39L34.00 207.75L33.47 206.65L32.41 205.56M26.58 195.17L35.06 195.17L36.65 195.71L37.18 196.26L37.71 197.36L37.71 199.00L37.18 200.09M28.17 195.17L27.11 196.26L26.58 197.36L26.58 199.00L27.11 200.09L28.17 201.18L29.76 201.73L30.82 201.73L32.41 201.18L33.47 200.09L34.00 199.00L34.00 197.36L33.47 196.26L32.41 195.17M29.76 191.34L29.76 184.77L28.70 184.77L27.64 185.32L27.11 185.87L26.58 186.96L26.58 188.60L27.11 189.70L28.17 190.79L29.76 191.34L30.82 191.34L32.41 190.79L33.47 189.70L34.00 188.60L34.00 186.96L33.47 185.87L32.41 184.77M52.32 36.29L53.41 35.76L55.04 34.17L55.04 45.30M62.67 44.24L62.13 44.77L62.67 45.30L63.22 44.77L62.67 44.24M70.30 34.17L68.67 34.70L67.58 36.29L67.03 38.94L67.03 40.53L67.58 43.18L68.67 44.77L70.30 45.30L71.39 45.30L73.03 44.77L74.12 43.18L74.66 40.53L74.66 38.94L74.12 36.29L73.03 34.70L71.39 34.17L70.30 34.17M81.20 34.17L79.57 34.70L78.48 36.29L77.93 38.94L77.93 40.53L78.48 43.18L79.57 44.77L81.20 45.30L82.29 45.30L83.93 44.77L85.02 43.18L85.56 40.53L85.56 38.94L85.02 36.29L83.93 34.70L82.29 34.17L81.20 34.17M92.10 34.17L90.47 34.70L89.38 36.29L88.83 38.94L88.83 40.53L89.38 43.18L90.47 44.77L92.10 45.30L93.19 45.30L94.83 44.77L95.92 43.18L96.47 40.53L96.47 38.94L95.92 36.29L94.83 34.70L93.19 34.17L92.10 34.17M53.95 182.17L52.32 182.70L51.23 184.29L50.68 186.94L50.68 188.53L51.23 191.18L52.32 192.77L53.95 193.30L55.04 193.30L56.68 192.77L57.77 191.18L58.31 188.53L58.31 186.94L57.77 184.29L56.68 182.70L55.04 182.17L53.95 182.17M62.67 192.24L62.13 192.77L62.67 193.30L63.22 192.77L62.67 192.24M68.67 184.29L69.76 183.76L71.39 182.17L71.39 193.30M81.20 182.17L79.57 182.70L78.48 184.29L77.93 186.94L77.93 188.53L78.48 191.18L79.57 192.77L81.20 193.30L82.29 193.30L83.93 192.77L85.02 191.18L85.56 188.53L85.56 186.94L85.02 184.29L83.93 182.70L82.29 182.17L81.20 182.17M92.10 182.17L90.47 182.70L89.38 184.29L88.83 186.94L88.83 188.53L89.38 191.18L90.47 192.77L92.10 193.30L93.19 193.30L94.83 192.77L95.92 191.18L96.47 188.53L96.47 186.94L95.92 184.29L94.83 182.70L93.19 182.17L92.10 182.17M53.95 330.17L52.32 330.70L51.23 332.29L50.68 334.94L50.68 336.53L51.23 339.18L52.32 340.77L53.95 341.30L55.04 341.30L56.68 340.77L57.77 339.18L58.31 336.53L58.31 334.94L57.77 332.29L56.68 330.70L55.04 330.17L53.95 330.17M62.67 340.24L62.13 340.77L62.67 341.30L63.22 340.77L62.67 340.24M70.30 330.17L68.67 330.70L67.58 332.29L67.03 334.94L67.03 336.53L67.58 339.18L68.67 340.77L70.30 341.30L71.39 341.30L73.03 340.77L74.12 339.18L74.66 336.53L74.66 334.94L74.12 332.29L73.03 330.70L71.39 330.17L70.30 330.17M79.57 332.29L80.66 331.76L82.29 330.17L82.29 341.30M92.10 330.17L90.47 330.70L89.38 332.29L88.83 334.94L88.83 336.53L89.38 339.18L90.47 340.77L92.10 341.30L93.19 341.30L94.83 340.77L95.92 339.18L96.47 336.53L96.47 334.94L95.92 332.29L94.83 330.70L93.19 330.17L92.10 330.17M53.95 478.17L52.32 478.70L51.23 480.29L50.68 482.94L50.68 484.53L51.23 487.18L52.32 488.77L53.95 489.30L55.04 489.30L56.68 488.77L57.77 487.18L58.31 484.53L58.31 482.94L57.77 480.29L56.68 478.70L55.04 478.17L53.95 478.17M62.67 488.24L62.13 488.77L62.67 489.30L63.22 488.77L62.67 488.24M70.30 478.17L68.67 478.70L67.58 480.29L67.03 482.94L67.03 484.53L67.58 487.18L68.67 488.77L70.30 489.30L71.39 489.30L73.03 488.77L74.12 487.18L74.66 484.53L74.66 482.94L74.12 480.29L73.03 478.70L71.39 478.17L70.30 478.17M81.20 478.17L79.57 478.70L78.48 480.29L77.93 482.94L77.93 484.53L78.48 487.18L79.57 488.77L81.20 489.30L82.29 489.30L83.93 488.77L85.02 487.18L85.56 484.53L85.56 482.94L85.02 480.29L83.93 478.70L82.29 478.17L81.20 478.17M90.47 480.29L91.56 479.76L93.19 478.17L93.19 489.30M101.38 542.86L102.44 542.34L104.03 540.78L104.03 551.70M363.58 542.86L364.64 542.34L366.23 540.78L366.23 551.70M375.77 540.78L374.18 541.30L373.12 542.86L372.59 545.46L372.59 547.02L373.12 549.62L374.18 551.18L375.77 551.70L376.83 551.70L378.42 551.18L379.48 549.62L380.01 547.02L380.01 545.46L379.48 542.86L378.42 541.30L376.83 540.78L375.77 540.78M625.78 542.86L626.84 542.34L628.43 540.78L628.43 551.70M637.97 540.78L636.38 541.30L635.32 542.86L634.79 545.46L634.79 547.02L635.32 549.62L636.38 551.18L637.97 551.70L639.03 551.70L640.62 551.18L641.68 549.62L642.21 547.02L642.21 545.46L641.68 542.86L640.62 541.30L639.03 540.78L637.97 540.78M648.57 540.78L646.98 541.30L645.92 542.86L645.39 545.46L645.39 547.02L645.92 549.62L646.98 551.18L648.57 551.70L649.63 551.70L651.22 551.18L652.28 549.62L652.81 547.02L652.81 545.46L652.28 542.86L651.22 541.30L649.63 540.78L648.57 540.78" fill="none" stroke="#000" stroke-width="2.60" stroke-linecap="butt" stroke-linejoin="miter" stroke-miterlimit="2.5"/>
<!-- same labels as real text (invisible, for text content) -->
<g class="lbl"><text x="183.0" y="62.0" text-anchor="start">BM radio modelling</text>
<text x="451.0" y="573.0" text-anchor="middle">days since first light (τ)</text>
<text x="34.0" y="280.0" text-anchor="middle" transform="rotate(-90 34.0 280.0)">cumulative percentage</text>
<text x="98.0" y="44.7" text-anchor="end">1.000</text>
<text x="98.0" y="192.7" text-anchor="end">0.100</text>
<text x="98.0" y="340.7" text-anchor="end">0.010</text>
<text x="98.0" y="488.7" text-anchor="end">0.001</text>
<text x="103.5" y="552.0" text-anchor="middle">1</text>
<text x="371.0" y="552.0" text-anchor="middle">10</text>
<text x="638.5" y="552.0" text-anchor="middle">100</text></g>
</svg>
</body></html>
